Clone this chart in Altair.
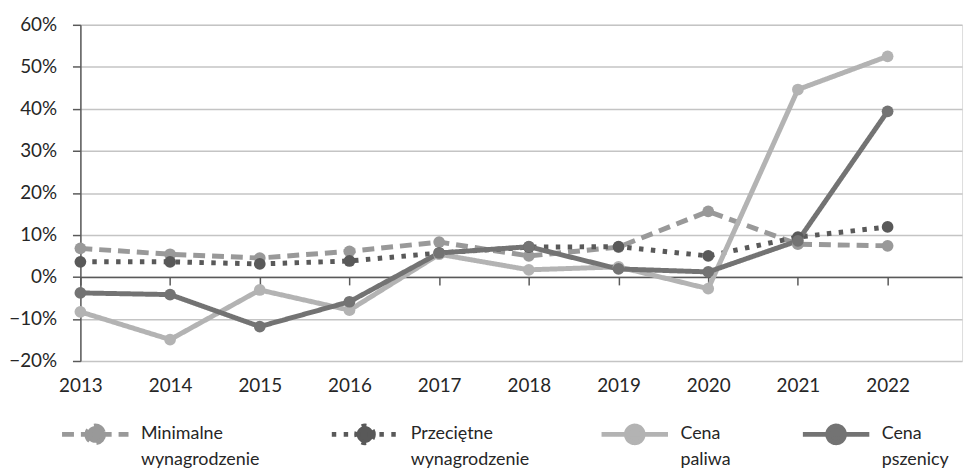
import altair as alt
import pandas as pd

years = list(range(2013, 2023))
series_names = ["Minimalne|wynagrodzenie", "Przeciętne|wynagrodzenie", "Cena|paliwa", "Cena|pszenicy"]
minimalne = [6.8, 5.4, 4.5, 6.1, 8.3, 5.0, 7.1, 15.6, 7.8, 7.4]
przecietne = [3.6, 3.6, 3.1, 3.8, 5.7, 7.1, 7.2, 5.0, 9.5, 11.9]
paliwa = [-8.3, -14.9, -3.1, -7.9, 5.4, 1.7, 2.4, -2.8, 44.6, 52.5]
pszenicy = [-3.8, -4.2, -11.8, -5.9, 5.7, 7.2, 1.9, 1.2, 8.6, 39.4]
colors = ["#999999", "#595959", "#b3b3b3", "#737373"]
dashes = [[12, 7], [4.5, 7.5], [1, 0], [1, 0]]

rows = []
for name, vals in zip(series_names, [minimalne, przecietne, paliwa, pszenicy]):
    for y, v in zip(years, vals):
        rows.append({"rok": y, "wartosc": v / 100, "seria": name})
df = pd.DataFrame(rows)

FONT = "Lato"
FS = 19
LFS = 18
TXT = "#262626"
x_dom = [2013, 2022.83]
y_scale = alt.Scale(domain=[-0.2, 0.6], nice=False)

sym_path = "M-1,0L1,0M0.25,0A0.25,0.25,0,1,1,-0.25,0A0.25,0.25,0,1,1,0.25,0Z"

legend_kw = dict(
    title=None, orient="none", legendX=-21, legendY=377, direction="horizontal",
    columns=4, columnPadding=62, gridAlign="each", symbolType=sym_path, symbolSize=4489,
    symbolStrokeWidth=5, labelExpr="split(datum.label, '|')",
    labelFont=FONT, labelFontSize=LFS, labelColor=TXT,
    labelBaseline="middle", labelOffset=10, labelLimit=300,
)

color_enc = alt.Color(
    "seria:N",
    scale=alt.Scale(domain=series_names, range=colors),
    legend=alt.Legend(**legend_kw),
)
dash_enc = alt.StrokeDash(
    "seria:N",
    scale=alt.Scale(domain=series_names, range=dashes),
    legend=alt.Legend(**legend_kw),
)

y_axis = alt.Axis(
    title=None, format=".0%", values=[i / 10 for i in range(-2, 7)],
    grid=True, gridColor="#c4c4c4", gridWidth=1.5,
    domainColor="#595959", domainWidth=1.5, tickColor="#595959", tickSize=8, tickWidth=1.5,
    labelFont=FONT, labelFontSize=FS, labelColor=TXT, labelPadding=16,
)

lines = alt.Chart(df).mark_line(strokeWidth=5, strokeCap="butt", strokeJoin="round").encode(
    x=alt.X("rok:Q", scale=alt.Scale(domain=x_dom, nice=False, zero=False),
            axis=alt.Axis(title=None, orient="bottom", offset=-84.75, values=years,
                          labels=False, grid=False, domainColor="#595959", domainWidth=1.5,
                          tickColor="#595959", tickSize=8, tickWidth=1.5)),
    y=alt.Y("wartosc:Q", scale=y_scale, axis=y_axis),
    color=color_enc,
    strokeDash=dash_enc,
)

points = alt.Chart(df).mark_circle(size=140, opacity=1).encode(
    x=alt.X("rok:Q", scale=alt.Scale(domain=x_dom, nice=False, zero=False),
            axis=alt.Axis(title=None, orient="bottom", values=years, format="d",
                          domain=False, ticks=False, grid=False, labelFlush=False,
                          labelFont=FONT, labelFontSize=FS, labelColor=TXT,
                          labelPadding=16)),
    y=alt.Y("wartosc:Q", scale=y_scale, axis=y_axis),
    color=alt.Color("seria:N", scale=alt.Scale(domain=series_names, range=colors), legend=None),
)

chart = alt.layer(lines, points).resolve_axis(x="independent").properties(
    width=889, height=339,
    autosize=alt.AutoSizeParams(type="none"),
    padding={"left": 73, "top": 15, "right": 5, "bottom": 112},
).configure_view(stroke=None).configure(
    style={"guide-label": {"lineHeight": 26}}
)

chart.save("out.html", embed_options={"renderer": "svg", "actions": False})
